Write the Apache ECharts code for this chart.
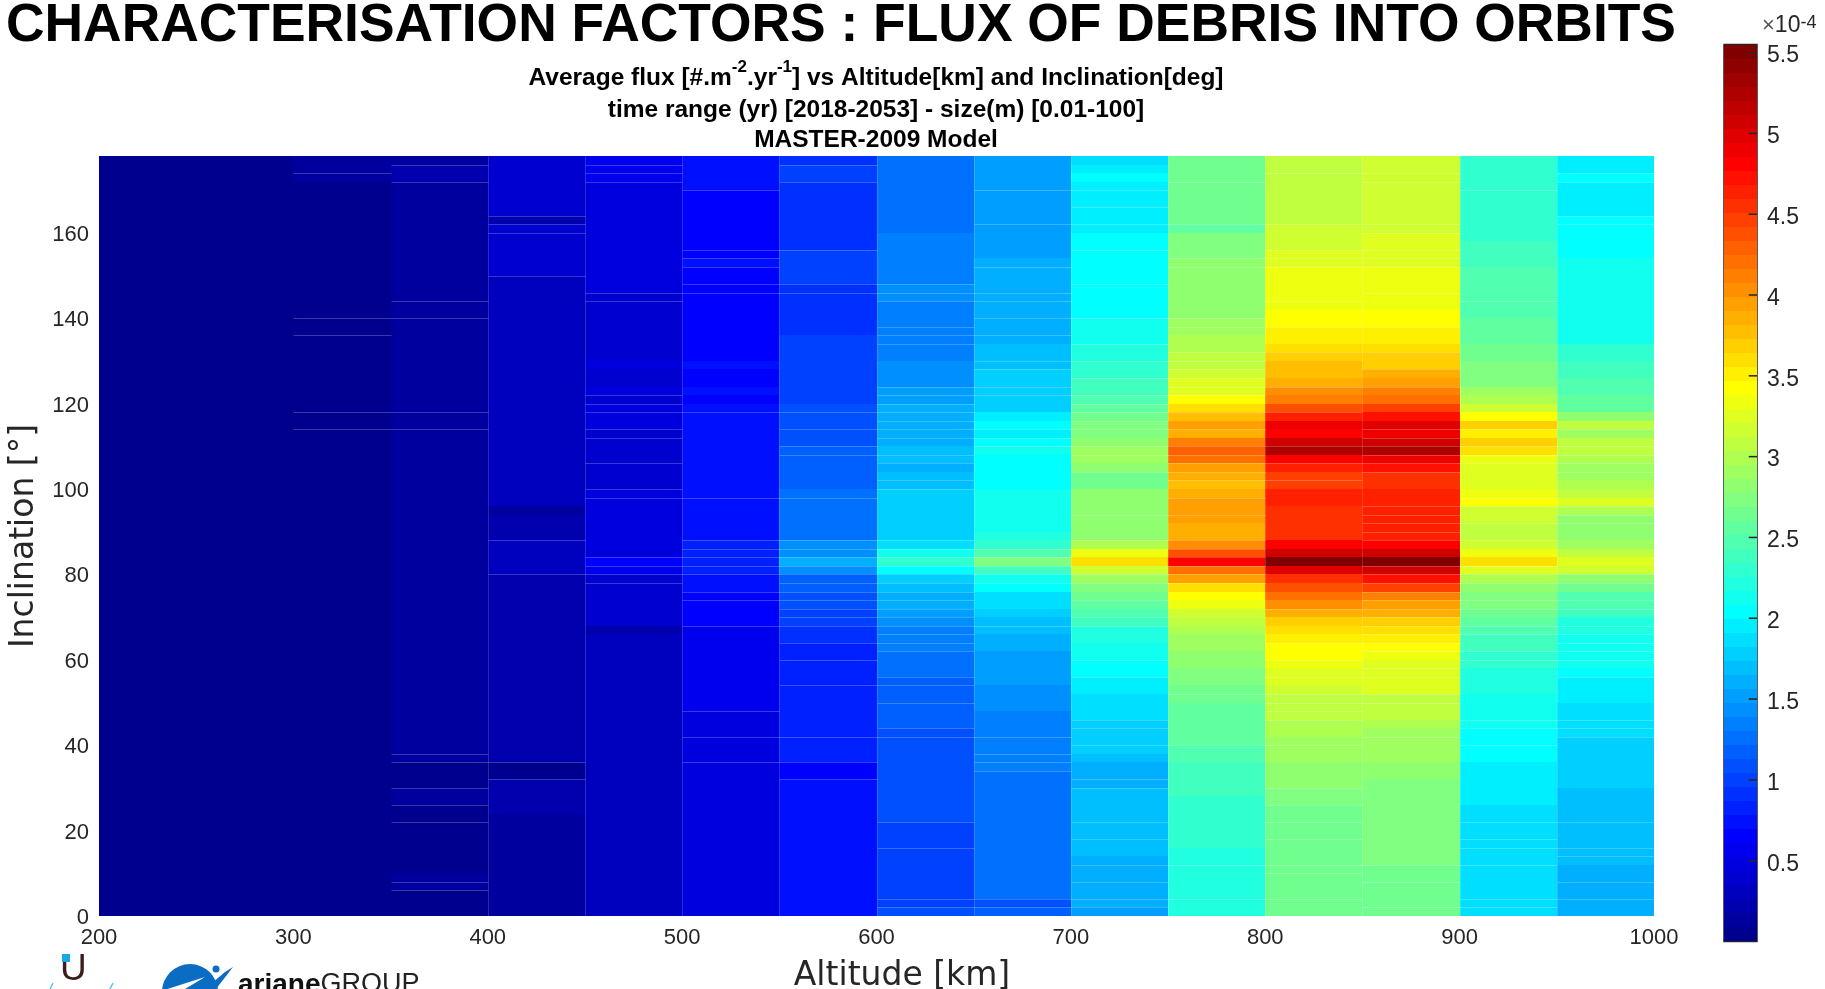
<!DOCTYPE html>
<html><head><meta charset="utf-8">
<style>html,body{margin:0;padding:0;background:#fff;overflow:hidden}#c{width:1825px;height:989px}</style>
<script src="https://cdn.jsdelivr.net/npm/echarts@6/dist/echarts.min.js"></script>
</head><body><div id="c"></div>
<script>
// Flux in units of 1e-4 #/m2/yr. Each list runs from inclination 176-178 deg (first) down to 0-2 deg (last).
const flux200=[.04,.04,.04,.04,.04,.04,.04,.04,.04,.04,.04,.04,.04,.04,.04,.04,.04,.04,.04,.04,.04,.04,.04,.04,.04,.04,.04,.04,.04,.04,.04,.04,.04,.04,.04,.04,.04,.04,.04,.04,.04,.04,.04,.04,.04,.04,.04,.04,.04,.04,.04,.04,.04,.04,.04,.04,.04,.04,.04,.04,.04,.04,.04,.04,.04,.04,.04,.04,.04,.04,.04,.04,.04,.04,.04,.04,.04,.04,.04,.04,.04,.04,.04,.04,.04,.04,.04,.04,.04];
const flux250=[.04,.04,.04,.04,.04,.04,.04,.04,.04,.04,.04,.04,.04,.04,.04,.04,.04,.04,.04,.04,.04,.04,.04,.04,.04,.04,.04,.04,.04,.04,.04,.04,.04,.04,.04,.04,.04,.04,.04,.04,.04,.04,.04,.04,.04,.04,.04,.04,.04,.04,.04,.04,.04,.04,.04,.04,.04,.04,.04,.04,.04,.04,.04,.04,.04,.04,.04,.04,.04,.04,.04,.04,.04,.04,.04,.04,.04,.04,.04,.04,.04,.04,.04,.04,.04,.04,.04,.04,.04];
const flux300=[.13,.13,.13,.04,.04,.04,.04,.04,.04,.04,.04,.04,.04,.04,.04,.04,.04,.04,.04,.04,.04,.04,.04,.04,.04,.04,.04,.04,.04,.04,.04,.04,.04,.04,.04,.04,.04,.04,.04,.04,.04,.04,.04,.04,.04,.04,.04,.04,.04,.04,.04,.04,.04,.04,.04,.04,.04,.04,.04,.04,.04,.04,.04,.04,.04,.04,.04,.04,.04,.04,.04,.04,.04,.04,.04,.04,.04,.04,.04,.04,.04,.04,.04,.04,.04,.04,.04,.04,.04];
const flux350=[.13,.22,.22,.13,.13,.13,.13,.13,.13,.13,.13,.13,.13,.13,.13,.13,.13,.13,.13,.13,.13,.13,.13,.13,.13,.13,.13,.13,.13,.13,.13,.13,.13,.13,.13,.13,.13,.13,.13,.13,.13,.13,.13,.13,.13,.13,.13,.13,.13,.13,.13,.13,.13,.13,.13,.13,.13,.13,.13,.13,.13,.13,.13,.13,.13,.13,.13,.13,.13,.13,.13,.04,.04,.04,.13,.13,.04,.04,.04,.04,.04,.04,.04,.04,.13,.13,.04,.04,.04];
const flux400=[.39,.39,.39,.39,.39,.39,.39,.22,.39,.39,.39,.39,.39,.39,.30,.30,.30,.30,.30,.30,.30,.30,.30,.30,.30,.30,.30,.30,.30,.30,.30,.30,.30,.30,.30,.30,.30,.30,.30,.30,.30,.13,.22,.22,.22,.30,.30,.30,.30,.22,.22,.22,.22,.22,.22,.22,.22,.22,.22,.22,.22,.22,.22,.22,.22,.22,.22,.22,.22,.22,.22,.04,.04,.22,.22,.22,.22,.13,.13,.13,.13,.13,.13,.13,.13,.13,.13,.13,.13];
const flux450=[.56,.56,.56,.48,.48,.48,.48,.48,.48,.48,.48,.48,.48,.48,.48,.48,.39,.39,.39,.39,.39,.39,.39,.39,.48,.39,.39,.48,.39,.48,.48,.48,.39,.39,.39,.39,.39,.39,.39,.48,.48,.48,.48,.48,.48,.48,.48,.65,.56,.39,.39,.39,.39,.39,.39,.22,.30,.30,.30,.30,.30,.30,.30,.30,.30,.30,.30,.30,.30,.30,.30,.30,.30,.30,.30,.30,.30,.30,.30,.30,.30,.30,.30,.30,.30,.30,.30,.30,.30];
const flux500=[.74,.74,.74,.74,.65,.65,.65,.65,.65,.65,.65,.65,.74,.65,.65,.65,.65,.65,.65,.65,.65,.65,.65,.65,.74,.65,.65,.74,.65,.74,.74,.74,.74,.74,.74,.74,.74,.74,.74,.74,.74,.74,.74,.74,.74,.82,.82,.82,.82,.74,.74,.65,.65,.65,.65,.56,.56,.56,.56,.56,.56,.56,.56,.56,.56,.48,.48,.48,.48,.48,.48,.48,.48,.48,.48,.48,.48,.48,.48,.48,.48,.48,.48,.48,.48,.48,.48,.48,.48];
const flux550=[.91,1.00,1.00,.91,.91,.91,.91,.91,.91,.91,.91,1.00,1.00,1.00,1.00,.91,.91,.91,.91,.91,.91,1.00,1.00,1.00,1.00,1.00,1.00,1.00,1.00,1.08,1.08,1.08,1.08,1.08,1.17,1.17,1.17,1.17,1.17,1.26,1.26,1.26,1.26,1.26,1.26,1.43,1.43,1.60,1.43,1.17,1.17,1.08,1.08,1.00,1.00,.91,.91,.82,.82,.82,.82,.82,.82,.82,.82,.82,.82,.82,.82,.82,.82,.65,.65,.74,.74,.74,.74,.74,.74,.74,.74,.74,.74,.74,.74,.74,.74,.74,.74];
const flux600=[1.26,1.26,1.26,1.26,1.26,1.26,1.26,1.26,1.26,1.34,1.34,1.34,1.34,1.34,1.34,1.43,1.43,1.34,1.34,1.34,1.34,1.34,1.34,1.34,1.43,1.43,1.43,1.52,1.52,1.60,1.60,1.60,1.60,1.60,1.69,1.69,1.60,1.69,1.69,1.78,1.78,1.78,1.78,1.78,1.78,1.86,2.12,2.30,2.04,1.78,1.69,1.60,1.60,1.52,1.43,1.34,1.34,1.34,1.26,1.26,1.26,1.17,1.17,1.17,1.17,1.17,1.17,1.08,1.08,1.08,1.08,1.08,1.08,1.08,1.08,1.08,1.08,1.08,1.00,1.00,1.00,1.00,1.00,1.00,1.00,1.00,1.00,1.00,1.08];
const flux650=[1.52,1.52,1.52,1.52,1.52,1.52,1.52,1.52,1.52,1.52,1.52,1.52,1.60,1.60,1.60,1.60,1.60,1.60,1.60,1.60,1.60,1.60,1.69,1.69,1.69,1.78,1.78,1.78,1.78,1.78,1.95,2.04,1.95,2.04,2.12,2.04,2.04,2.04,2.04,2.12,2.12,2.12,2.12,2.12,2.21,2.30,2.47,2.73,2.38,2.12,2.04,1.86,1.86,1.78,1.69,1.69,1.60,1.60,1.52,1.52,1.52,1.52,1.43,1.43,1.43,1.34,1.34,1.34,1.34,1.34,1.34,1.34,1.26,1.26,1.26,1.26,1.26,1.26,1.26,1.26,1.26,1.26,1.26,1.26,1.26,1.26,1.26,1.08,1.17];
const flux700=[1.86,1.95,2.04,1.95,1.95,1.95,1.95,1.95,1.95,2.04,2.04,2.04,2.04,2.04,2.04,2.04,2.04,2.04,2.04,2.12,2.12,2.12,2.21,2.21,2.30,2.30,2.38,2.38,2.47,2.56,2.64,2.73,2.73,2.82,2.90,2.90,2.82,2.64,2.64,2.82,2.82,2.82,2.82,2.82,2.82,2.99,3.34,3.60,3.16,2.90,2.73,2.64,2.56,2.47,2.38,2.21,2.21,2.12,2.12,2.04,2.04,1.95,1.95,1.86,1.86,1.86,1.78,1.78,1.78,1.78,1.69,1.60,1.60,1.60,1.69,1.69,1.69,1.69,1.69,1.69,1.69,1.69,1.60,1.60,1.60,1.60,1.60,1.60,1.52];
const flux750=[2.64,2.64,2.64,2.64,2.64,2.64,2.64,2.64,2.56,2.73,2.73,2.73,2.82,2.82,2.82,2.82,2.82,2.82,2.82,2.90,2.90,2.99,2.99,3.08,3.08,3.16,3.25,3.25,3.42,3.60,3.77,3.94,3.86,4.12,4.29,4.20,3.94,3.86,3.77,3.86,3.94,3.94,3.94,3.86,3.86,4.03,4.38,4.81,4.20,3.94,3.60,3.42,3.34,3.16,3.08,2.99,2.90,2.90,2.82,2.82,2.73,2.73,2.64,2.64,2.56,2.56,2.56,2.56,2.56,2.47,2.47,2.38,2.38,2.38,2.38,2.30,2.30,2.30,2.30,2.30,2.30,2.21,2.21,2.21,2.21,2.21,2.21,2.21,2.21];
const flux800=[3.08,3.08,3.08,3.08,3.08,3.08,3.08,3.08,3.16,3.16,3.16,3.25,3.25,3.34,3.34,3.34,3.34,3.34,3.42,3.42,3.51,3.51,3.60,3.68,3.77,3.77,3.86,4.03,4.12,4.38,4.64,4.90,4.81,5.07,5.24,4.81,4.64,4.46,4.46,4.64,4.64,4.55,4.55,4.55,4.55,4.81,5.07,5.50,4.98,4.55,4.38,4.20,4.03,3.86,3.68,3.60,3.51,3.42,3.42,3.34,3.25,3.25,3.16,3.08,3.08,3.08,2.99,2.99,2.90,2.90,2.90,2.82,2.82,2.82,2.73,2.73,2.64,2.64,2.64,2.64,2.64,2.64,2.64,2.64,2.64,2.64,2.64,2.64,2.64];
const flux850=[3.16,3.16,3.16,3.16,3.16,3.16,3.16,3.16,3.16,3.25,3.25,3.25,3.25,3.34,3.34,3.34,3.34,3.34,3.42,3.42,3.51,3.51,3.60,3.68,3.68,3.86,3.94,4.12,4.20,4.46,4.72,4.98,4.90,5.07,5.24,4.90,4.72,4.55,4.55,4.64,4.64,4.64,4.64,4.64,4.64,4.81,5.07,5.50,5.07,4.72,4.46,4.12,3.94,3.86,3.68,3.60,3.51,3.42,3.34,3.25,3.25,3.25,3.25,3.08,3.08,3.08,2.99,2.90,2.90,2.90,2.90,2.82,2.82,2.73,2.73,2.73,2.73,2.73,2.73,2.73,2.73,2.73,2.73,2.64,2.64,2.64,2.64,2.64,2.64];
const flux900=[2.30,2.30,2.30,2.30,2.30,2.30,2.30,2.30,2.30,2.30,2.38,2.38,2.38,2.47,2.47,2.47,2.47,2.47,2.47,2.56,2.56,2.56,2.64,2.64,2.73,2.73,2.73,2.90,2.99,3.16,3.42,3.68,3.51,3.68,3.60,3.34,3.25,3.25,3.25,3.34,3.42,3.16,3.16,3.08,3.08,3.16,3.34,3.60,3.25,2.99,2.82,2.73,2.73,2.64,2.56,2.47,2.38,2.38,2.30,2.30,2.21,2.21,2.21,2.12,2.12,2.12,2.12,2.04,2.04,2.04,2.04,1.95,1.95,1.95,1.95,1.95,1.86,1.86,1.86,1.86,1.86,1.86,1.86,1.86,1.86,1.86,1.86,1.86,1.86];
const flux950=[1.95,1.95,2.04,1.95,1.95,1.95,1.95,2.04,2.04,2.04,2.04,2.04,2.12,2.12,2.12,2.12,2.12,2.12,2.12,2.12,2.12,2.12,2.30,2.30,2.38,2.38,2.47,2.47,2.56,2.56,2.82,3.08,2.90,3.08,3.08,2.99,2.90,2.90,2.99,3.08,3.25,2.99,2.82,2.82,2.82,2.90,3.08,3.25,3.16,2.82,2.64,2.47,2.47,2.38,2.21,2.21,2.12,2.12,2.12,2.12,2.04,1.95,1.95,1.95,1.86,1.86,1.86,1.86,1.78,1.78,1.78,1.78,1.78,1.78,1.69,1.69,1.69,1.69,1.69,1.69,1.69,1.69,1.69,1.60,1.60,1.60,1.60,1.60,1.60];

// Faint light seams visible in the picture: index of the row (counted from the top) whose upper edge shows a seam.
const seam300=[2,19,21,30,32];
const seam350=[1,3,17,19,30,32,70,71,74,76,78,85,86];
const seam400=[7,8,9,14,45,49,71,73];
const seam450=[1,2,3,16,17,28,29,30,32,33,36,39,40,47,48,49,50];
const seam500=[4,11,12,13,15,16,30,40,45,46,47,48,49,51,52,55,65,68,71];
const seam550=[1,3,11,15,16,30,32,34,35,40,45,46,47,48,49,50,51,52,53,54,55,57,59,62,68,71,73];
const seam600=[15,16,17,20,21,22,27,28,29,30,31,32,33,35,36,38,39,45,46,47,48,49,50,51,52,53,54,55,56,57,58,61,62,64,67,68,78,81,87,88];
const seam650=[4,8,13,16,17,19,21,24,25,27,28,32,33,34,46,47,48,49,50,55,68,70,71,72,87,88];
const seam700=[4,6,8,11,15,19,22,24,26,28,29,30,31,32,34,35,37,42,45,49,50,52,54,55,59,61,66,67,69,73,74,78,80,83,85,87,88];
const seam750=[3,8,12,13,19,20,23,24,25,26,27,28,30,32,34,35,36,37,38,40,42,45,46,47,48,49,50,63,69,83,87];
const seam800=[2,8,11,12,13,17,20,23,27,30,34,36,38,53,57,59,61,63,64,65,66,69,74,76,78,80,83,84,87];
const seam850=[2,3,8,9,11,12,13,16,20,23,25,27,32,33,34,35,36,37,41,42,43,44,45,48,49,50,51,52,53,54,55,56,57,58,60,61,63,64,68,83,85,88];
const seam900=[4,17,32,34,35,36,40,41,43,45,48,49,50,52,53,55,56,58,59,66,67,69,78,80,81,83,87,88];
const seam950=[2,3,7,8,32,34,35,36,37,41,42,43,49,50,52,53,55,56,57,58,59,61,66,67,68,78,81,82,85,87];

const altitudeBins=[200,250,300,350,400,450,500,550,600,650,700,750,800,850,900,950];
const fluxColumns=[flux200,flux250,flux300,flux350,flux400,flux450,flux500,flux550,flux600,flux650,flux700,flux750,flux800,flux850,flux900,flux950];
const seamColumns={300:seam300,350:seam350,400:seam400,450:seam450,500:seam500,550:seam550,600:seam600,650:seam650,700:seam700,750:seam750,800:seam800,850:seam850,900:seam900,950:seam950};
const colorbarTicks=[0.5,1,1.5,2,2.5,3,3.5,4,4.5,5,5.5];
const xTickLabels=[200,300,400,500,600,700,800,900,1000];
const yTickLabels=[0,20,40,60,80,100,120,140,160];

const FLUX_MIN=0.003, FLUX_MAX=5.55, LEVELS=64;
const ALT_STEP=50, INC_STEP=2, INC_TOP=176;
const INK='#262626', SANS='"Liberation Sans",Arial,sans-serif', DEJA='"DejaVu Sans",sans-serif';

// MATLAB jet(64)
function jet(i){ // i = 1..64
  const c=x=>Math.round(255*Math.max(0,Math.min(1,x)));
  const t=i*4/64;
  const r=Math.min(t-1.5,4.5-t), g=Math.min(t-0.5,3.5-t), b=Math.min(t+0.5,2.5-t);
  return 'rgb('+c(r)+','+c(g)+','+c(b)+')';
}
function level(v){return Math.max(1,Math.min(LEVELS,Math.floor((v-FLUX_MIN)/(FLUX_MAX-FLUX_MIN)*LEVELS)+1));}

const cells=[];
fluxColumns.forEach((col,c)=>col.forEach((v,k)=>cells.push([altitudeBins[c],INC_TOP-INC_STEP*k,v])));
const seams=[];
Object.keys(seamColumns).forEach(a=>seamColumns[a].forEach(k=>seams.push([+a,INC_TOP+INC_STEP-INC_STEP*k])));
const barLevels=[];
for(let i=1;i<=LEVELS;i++)barLevels.push([i,FLUX_MIN+(i-1)*(FLUX_MAX-FLUX_MIN)/LEVELS]);
const columnEdges=altitudeBins.slice(4).map(a=>[a]);

function rectItem(p0,p1,fill){
  const x0=Math.round(p0[0]),x1=Math.round(p1[0]),y0=Math.round(p0[1]),y1=Math.round(p1[1]);
  return {type:'rect',shape:{x:x0,y:y1,width:x1-x0,height:y0-y1},style:{fill:fill},silent:true};
}
function lineItem(p0,p1,color){
  return {type:'line',shape:{x1:Math.round(p0[0])+.5,y1:Math.round(p0[1])+.5,x2:Math.round(p1[0])+.5,y2:Math.round(p1[1])+.5},
    style:{stroke:color,lineWidth:1},silent:true};
}

const chart=echarts.init(document.getElementById('c'),null,{renderer:'canvas'});
chart.setOption({
  animation:false,
  backgroundColor:'#fff',
  title:[
    {text:'CHARACTERISATION FACTORS : FLUX OF DEBRIS INTO ORBITS',left:6,top:-1,padding:0,
     textStyle:{fontFamily:SANS,fontWeight:'bold',fontSize:53.4,color:'#000',lineHeight:54}},
    {text:'{b|Average flux [#.m}{s|-2}{b|.yr}{s|-1}{b|] vs Altitude[km] and Inclination[deg]}',left:876,top:59,textAlign:'center',padding:0,
     textStyle:{rich:{b:{fontFamily:SANS,fontWeight:'bold',fontSize:24.5,color:'#000',lineHeight:32,verticalAlign:'bottom'},
                      s:{fontFamily:SANS,fontWeight:'bold',fontSize:17,color:'#000',lineHeight:32,verticalAlign:'top'}}}},
    {text:'time range (yr) [2018-2053] - size(m) [0.01-100]',left:876,top:98,textAlign:'center',padding:0,
     textStyle:{fontFamily:SANS,fontWeight:'bold',fontSize:24.5,color:'#000'}},
    {text:'MASTER-2009 Model',left:876,top:128,textAlign:'center',padding:0,
     textStyle:{fontFamily:SANS,fontWeight:'bold',fontSize:24.5,color:'#000'}}
  ],
  grid:[
    {left:99,top:156,width:1555,height:760,outerBoundsMode:'none',show:false},
    {left:1724,top:44.5,width:33,height:897,outerBoundsMode:'none',show:true,borderColor:INK,borderWidth:1.5,backgroundColor:'transparent'}
  ],
  xAxis:[
    {type:'value',gridIndex:0,min:200,max:1000,interval:100,
     name:'Altitude [km]',nameLocation:'middle',nameGap:44,
     nameTextStyle:{fontFamily:DEJA,fontSize:33,color:INK,padding:[0,0,0,51]},
     axisLine:{show:false},axisTick:{show:false},splitLine:{show:false},
     axisLabel:{fontFamily:SANS,fontSize:22,color:INK,margin:11,customValues:xTickLabels,formatter:v=>String(v)}},
    {type:'value',gridIndex:1,min:0,max:1,show:false,splitLine:{show:false}}
  ],
  yAxis:[
    {type:'value',gridIndex:0,min:0,max:178,interval:20,
     name:'Inclination [°]',nameLocation:'middle',nameGap:46,nameRotate:90,
     nameTextStyle:{fontFamily:DEJA,fontSize:33,color:INK},
     axisLine:{show:false},axisTick:{show:false},splitLine:{show:false},
     axisLabel:{color:INK,margin:10,customValues:yTickLabels,formatter:v=>'{a|'+v+'}',
       rich:{a:{fontFamily:SANS,fontSize:22,color:INK,padding:[4,0,0,0]}}}},
    {type:'value',gridIndex:1,position:'right',min:0,max:FLUX_MAX,
     axisLine:{show:false},axisTick:{show:false},splitLine:{show:false},
     axisLabel:{color:INK,margin:10,customValues:colorbarTicks,formatter:v=>'{a|'+v+'}',
       rich:{a:{fontFamily:SANS,fontSize:23,color:INK,padding:[7,0,0,0]}}}}
  ],
  series:[
    {type:'custom',xAxisIndex:0,yAxisIndex:0,data:cells,silent:true,clip:true,z:1,
     encode:{x:0,y:1},
     renderItem(params,api){
       const a=api.value(0),i=api.value(1);
       return rectItem(api.coord([a,i]),api.coord([a+ALT_STEP,i+INC_STEP]),jet(level(api.value(2))));
     }},
    {type:'custom',xAxisIndex:0,yAxisIndex:0,data:seams,silent:true,clip:true,z:2,
     encode:{x:0,y:1},
     renderItem(params,api){
       const a=api.value(0),i=api.value(1);
       return lineItem(api.coord([a,i]),api.coord([a+ALT_STEP,i]),'rgba(255,255,255,0.22)');
     }},
    {type:'custom',xAxisIndex:0,yAxisIndex:0,data:columnEdges,silent:true,clip:true,z:2,
     encode:{x:0},
     renderItem(params,api){
       const a=api.value(0);
       return lineItem(api.coord([a,0]),api.coord([a,178]),'rgba(255,255,255,0.16)');
     }},
    {type:'custom',xAxisIndex:1,yAxisIndex:1,data:barLevels,silent:true,clip:true,z:1,
     encode:{y:1},
     renderItem(params,api){
       const l=api.value(0),f=api.value(1);
       return rectItem(api.coord([0,f]),api.coord([1,f+(FLUX_MAX-FLUX_MIN)/LEVELS]),jet(l));
     }},
    {type:'custom',xAxisIndex:1,yAxisIndex:1,data:colorbarTicks.map(v=>[v]),silent:true,z:3,
     encode:{y:0},
     renderItem(params,api){
       const v=api.value(0);
       const p0=api.coord([1,v]),p1=api.coord([0.75,v]);
       return {type:'line',shape:{x1:p0[0],y1:p0[1],x2:p1[0],y2:p1[1]},style:{stroke:INK,lineWidth:1.5},silent:true};
     }}
  ],
  graphic:[
    {type:'text',left:1762,top:14,style:{text:'{x|×}{t|10}{e|-4}',rich:{
       x:{fontFamily:SANS,fontSize:22,fill:'#555',verticalAlign:'bottom'},
       t:{fontFamily:SANS,fontSize:23,fill:INK,verticalAlign:'bottom'},
       e:{fontFamily:SANS,fontSize:18,fill:INK,verticalAlign:'top'}}}},
    {type:'text',left:60,top:951,style:{text:'U',fontFamily:SANS,fontSize:37,fill:'#3b1e1a'}},
    {type:'rect',shape:{x:62,y:954,width:8,height:8},style:{fill:'#16a9e6'}},
    {type:'line',shape:{x1:50,y1:989,x2:53,y2:983},style:{stroke:'#59c4ee',lineWidth:1.5}},
    {type:'line',shape:{x1:110,y1:989,x2:113,y2:983},style:{stroke:'#59c4ee',lineWidth:1.5}},
    {type:'circle',shape:{cx:190,cy:992,r:28},style:{fill:'#0b6cc4'}},
    {type:'polygon',shape:{points:[[158,992],[205,977],[180,992]]},style:{fill:'#fff'}},
    {type:'polygon',shape:{points:[[205,989],[225,972],[233,967],[216,989]]},style:{fill:'#0b6cc4'}},
    {type:'circle',shape:{cx:216,cy:969,r:3.5},style:{fill:'#0b6cc4'}},
    {type:'text',left:238,top:971,style:{text:'{a|ariane}{g|GROUP}',rich:{
       a:{fontFamily:SANS,fontWeight:'bold',fontSize:28,fill:'#111'},
       g:{fontFamily:SANS,fontSize:27,fill:'#222'}}}}
  ]
});
</script></body></html>
